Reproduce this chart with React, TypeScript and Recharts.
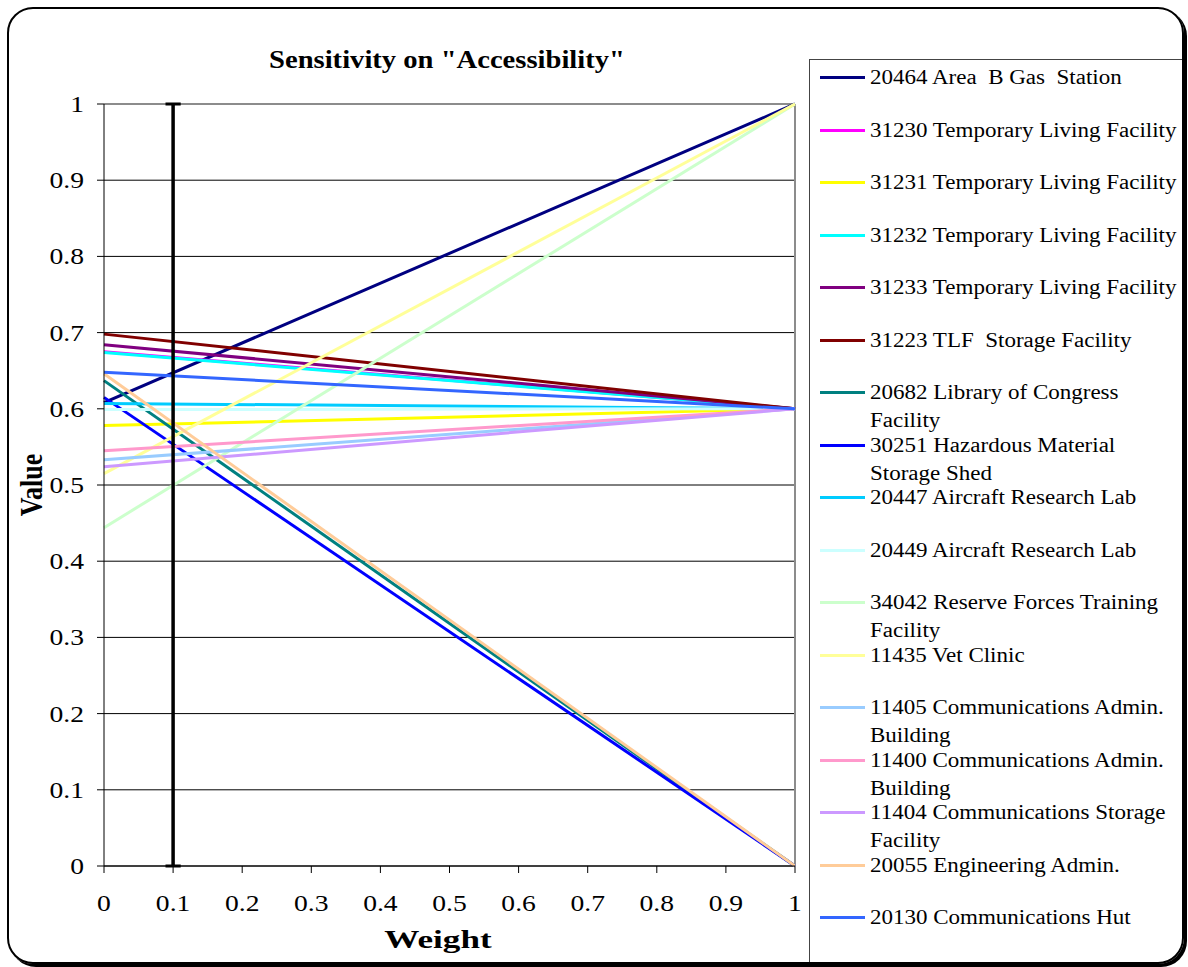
import React from "react";
import {
  LineChart,
  Line,
  XAxis,
  YAxis,
  CartesianGrid,
  ReferenceLine,
} from "recharts";

const weights = [0, 1];

const seriesNames = [
  "20464 Area  B Gas  Station",
  "31230 Temporary Living Facility",
  "31231 Temporary Living Facility",
  "31232 Temporary Living Facility",
  "31233 Temporary Living Facility",
  "31223 TLF  Storage Facility",
  "20682 Library of Congress Facility",
  "30251 Hazardous Material Storage Shed",
  "20447 Aircraft Research Lab",
  "20449 Aircraft Research Lab",
  "34042 Reserve Forces Training Facility",
  "11435 Vet Clinic",
  "11405 Communications Admin. Building",
  "11400 Communications Admin. Building",
  "11404 Communications Storage Facility",
  "20055 Engineering Admin.",
  "20130 Communications Hut",
];

const seriesColors = [
  "#000080",
  "#FF00FF",
  "#FFFF00",
  "#00FFFF",
  "#800080",
  "#800000",
  "#008080",
  "#0000FF",
  "#00CCFF",
  "#CCFFFF",
  "#CCFFCC",
  "#FFFF99",
  "#99CCFF",
  "#FF99CC",
  "#CC99FF",
  "#FFCC99",
  "#3366FF",
];

// value at weight 0
const startValues = [
  0.608, 0.675, 0.578, 0.674, 0.684, 0.698, 0.637, 0.615, 0.607, 0.599,
  0.444, 0.515, 0.533, 0.545, 0.524, 0.646, 0.648,
];
// value at weight 1
const endValues = [
  1, 0.6, 0.6, 0.6, 0.6, 0.6, 0, 0, 0.6, 0.6, 1, 1, 0.6, 0.6, 0.6, 0, 0.6,
];

const xTicks = [0, 0.1, 0.2, 0.3, 0.4, 0.5, 0.6, 0.7, 0.8, 0.9, 1];
const yTicks = [0, 0.1, 0.2, 0.3, 0.4, 0.5, 0.6, 0.7, 0.8, 0.9, 1];
const markerWeight = 0.1;

const data = weights.map((w, i) => {
  const row: Record<string, number> = { w };
  seriesNames.forEach((_, s) => {
    row["s" + s] = i === 0 ? startValues[s] : endValues[s];
  });
  return row;
});

const FONT = '"Liberation Serif", "Times New Roman", serif';
const TICK_SX = 1.15;

const XTick = (props: any) => {
  const { x, y, payload } = props;
  return (
    <g transform={`translate(${x},${y}) scale(${TICK_SX},1)`}>
      <text
        x={0}
        y={0}
        dy={38}
        textAnchor="middle"
        fill="#000"
        fontSize={24}
        fontFamily={FONT}
      >
        {String(payload.value)}
      </text>
    </g>
  );
};

const YTick = (props: any) => {
  const { x, y, payload } = props;
  return (
    <g transform={`translate(${x},${y}) scale(${TICK_SX},1)`}>
      <text
        x={0}
        y={0}
        dy={8}
        textAnchor="end"
        fill="#000"
        fontSize={24}
        fontFamily={FONT}
      >
        {String(payload.value)}
      </text>
    </g>
  );
};

export default function App() {
  return (
    <div
      style={{
        position: "absolute",
        left: 0,
        top: 0,
        width: 1188,
        height: 967,
        fontFamily: FONT,
        background: "#fff",
      }}
    >
      <div
        style={{
          position: "absolute",
          left: 7,
          top: 7,
          width: 1173,
          height: 953,
          border: "2px solid #000",
          borderRadius: 26,
          boxShadow: "3px 3px 0 #000",
          overflow: "hidden",
        }}
      >
        <div
          style={{
            position: "absolute",
            left: 800,
            top: 50,
            width: 400,
            height: 960,
            borderLeft: "1.5px solid #444",
            borderTop: "1.5px solid #444",
          }}
        />
      </div>
      <div
        style={{
          position: "absolute",
          left: 447 - 250,
          top: 44,
          width: 500,
          textAlign: "center",
          fontWeight: "bold",
          fontSize: 26,
          lineHeight: "32px",
          transform: "scaleX(1.1)",
          whiteSpace: "nowrap",
        }}
      >
        Sensitivity on "Accessibility"
      </div>
      <div
        style={{
          position: "absolute",
          left: 438 - 100,
          top: 924,
          width: 200,
          textAlign: "center",
          fontWeight: "bold",
          fontSize: 26,
          lineHeight: "32px",
          transform: "scaleX(1.35)",
          whiteSpace: "nowrap",
        }}
      >
        Weight
      </div>
      <div
        style={{
          position: "absolute",
          left: 32 - 100,
          top: 485 - 16,
          width: 200,
          textAlign: "center",
          fontWeight: "bold",
          fontSize: 26,
          lineHeight: "32px",
          transform: "rotate(-90deg) scaleY(1.2)",
          whiteSpace: "nowrap",
        }}
      >
        Value
      </div>
      <div style={{ position: "absolute", left: 0, top: 0 }}>
        <LineChart
          width={1188}
          height={967}
          data={data}
          margin={{ top: 104, right: 393, bottom: 41, left: 0 }}
        >
          <CartesianGrid
            vertical={false}
            horizontal
            stroke="#000"
            strokeWidth={1}
            horizontalValues={yTicks}
          />
          <XAxis
            dataKey="w"
            type="number"
            domain={[0, 1]}
            ticks={xTicks}
            height={60}
            stroke="#000"
            tickSize={7}
            tickMargin={0}
            tick={<XTick />}
            interval={0}
          />
          <YAxis
            type="number"
            domain={[0, 1]}
            ticks={yTicks}
            width={104}
            stroke="#000"
            tickSize={7}
            tickMargin={13}
            interval={0}
            tick={<YTick />}
          />
          <ReferenceLine y={1} stroke="#8c8c8c" strokeWidth={2} />
          <ReferenceLine x={1} stroke="#8c8c8c" strokeWidth={2} />
          {seriesNames.map((name, s) => (
            <Line
              key={name}
              type="linear"
              dataKey={"s" + s}
              name={name}
              stroke={seriesColors[s]}
              strokeWidth={3}
              dot={false}
              activeDot={false}
              isAnimationActive={false}
            />
          ))}
          <ReferenceLine x={markerWeight} stroke="#000" strokeWidth={3.5} />
          <ReferenceLine
            segment={[
              { x: markerWeight - 0.011, y: 1 },
              { x: markerWeight + 0.011, y: 1 },
            ]}
            stroke="#000"
            strokeWidth={3}
          />
          <ReferenceLine
            segment={[
              { x: markerWeight - 0.011, y: 0 },
              { x: markerWeight + 0.011, y: 0 },
            ]}
            stroke="#000"
            strokeWidth={3}
          />
        </LineChart>
      </div>
      {seriesNames.map((name, s) => (
        <div
          key={name}
          style={{
            position: "absolute",
            left: 820,
            top: 63 + s * 52.5,
            width: 370,
            height: 56,
            fontSize: 20,
            lineHeight: "28px",
            color: "#000",
          }}
        >
          <div
            style={{
              position: "absolute",
              left: 0,
              top: 13,
              width: 45,
              height: 3,
              background: seriesColors[s],
            }}
          />
          <div
            style={{
              position: "absolute",
              left: 50,
              top: 0,
              width: 269,
              whiteSpace: "pre-wrap",
              transform: "scaleX(1.15)",
              transformOrigin: "0 0",
            }}
          >
            {name}
          </div>
        </div>
      ))}
    </div>
  );
}
